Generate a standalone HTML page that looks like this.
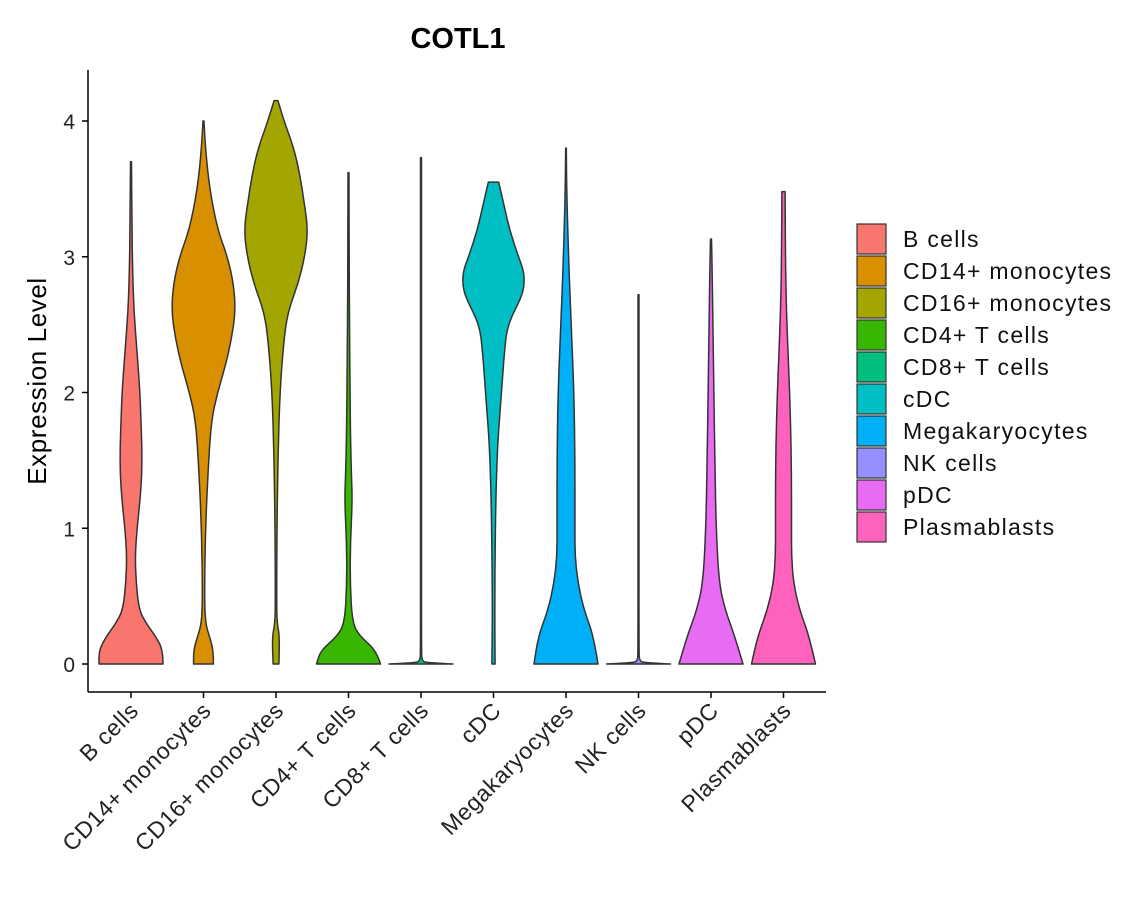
<!DOCTYPE html>
<html><head><meta charset="utf-8"><style>
body{margin:0;background:#fff;}
svg{display:block;font-family:"Liberation Sans","DejaVu Sans",sans-serif;}
</style></head><body>
<svg id="chart" width="1140" height="900" viewBox="0 0 1140 900">
<text x="458" y="48" text-anchor="middle" font-size="29" font-weight="bold">COTL1</text>
<text transform="translate(46,381) rotate(-90)" text-anchor="middle" font-size="26" letter-spacing="0.6">Expression Level</text>
<g id="plot"></g>
<g id="legend"></g>
</svg>
<script>
const categories=["B cells","CD14+ monocytes","CD16+ monocytes","CD4+ T cells","CD8+ T cells","cDC","Megakaryocytes","NK cells","pDC","Plasmablasts"];
const colors=["#F8766D","#D89000","#A3A500","#39B600","#00BF7D","#00BFC4","#00B0F6","#9590FF","#E76BF3","#FF62BC"];
const yTicks=[0,1,2,3,4];
const levels0=[0,0.1,0.2,0.3,0.4,0.6,0.8,1.0,1.2,1.4,1.6,1.8,2.0,2.3,2.6,2.9,3.2,3.7];
const dens0=[1,1,0.78,0.47,0.25,0.16,0.13,0.19,0.28,0.34,0.34,0.31,0.28,0.19,0.09,0.05,0.03,0.015];
const levels1=[0,0.1,0.2,0.3,0.5,1.0,1.5,1.8,2.0,2.2,2.4,2.6,2.8,3.0,3.2,3.5,3.8,4.0];
const dens1=[0.31,0.31,0.19,0.06,0.03,0.06,0.16,0.25,0.44,0.69,0.88,1,0.94,0.75,0.44,0.19,0.06,0.015];
const levels2=[0,0.2,0.3,0.5,1.0,1.5,2.0,2.4,2.6,2.8,3.0,3.2,3.4,3.6,3.8,4.0,4.15];
const dens2=[0.09,0.12,0.03,0.02,0.03,0.06,0.12,0.25,0.38,0.69,0.9,1,0.88,0.75,0.56,0.25,0.06];
const levels3=[0,0.1,0.2,0.3,0.6,0.9,1.2,1.4,1.7,2.0,2.5,3.0,3.62];
const dens3=[1,0.87,0.37,0.12,0.05,0.06,0.12,0.09,0.06,0.05,0.03,0.02,0.015];
const levels4=[0,0.01,0.02,0.1,1,2,3,3.73];
const dens4=[1,0.2,0.03,0.015,0.015,0.015,0.015,0.015];
const levels5=[0,0.5,1.5,2.0,2.3,2.5,2.7,2.8,2.9,3.0,3.2,3.4,3.55];
const dens5=[0.05,0.03,0.09,0.25,0.34,0.44,0.87,0.97,0.94,0.78,0.5,0.31,0.16];
const levels6=[0,0.2,0.4,0.6,0.8,1.0,1.5,2.0,2.5,3.0,3.5,3.8];
const dens6=[1,0.87,0.56,0.37,0.28,0.28,0.28,0.25,0.16,0.08,0.02,0.01];
const levels7=[0,0.01,0.02,0.1,1,2,2.72];
const dens7=[1,0.2,0.03,0.015,0.015,0.015,0.015];
const levels8=[0,0.2,0.4,0.6,1.0,1.5,2.0,2.5,3.0,3.13];
const dens8=[1,0.75,0.44,0.25,0.16,0.12,0.09,0.06,0.03,0.015];
const levels9=[0,0.2,0.4,0.6,0.8,1.0,1.4,1.8,2.2,2.6,3.0,3.48];
const dens9=[1,0.81,0.5,0.31,0.25,0.25,0.25,0.22,0.16,0.09,0.06,0.05];
const allLevels=[levels0,levels1,levels2,levels3,levels4,levels5,levels6,levels7,levels8,levels9];
const allDens=[dens0,dens1,dens2,dens3,dens4,dens5,dens6,dens7,dens8,dens9];

const NS="http://www.w3.org/2000/svg";
const X0=131,DX=72.5,Y0=664,DY=135.75,HW=32;
const xs=i=>X0+i*DX, ys=v=>Y0-v*DY;
const plot=document.getElementById('plot');
function mk(t,a,p){const e=document.createElementNS(NS,t);for(const k in a)e.setAttribute(k,a[k]);(p||plot).appendChild(e);return e;}
function smooth(pts){let d="M"+pts[0][0]+","+pts[0][1];
 for(let i=1;i<pts.length-1;i++){const mx=(pts[i][0]+pts[i+1][0])/2,my=(pts[i][1]+pts[i+1][1])/2;d+=" Q"+pts[i][0]+","+pts[i][1]+" "+mx+","+my;}
 const l=pts[pts.length-1];d+=" L"+l[0]+","+l[1];return d;}
categories.forEach((c,i)=>{
 const L=allLevels[i],D=allDens[i],cx=xs(i);
 const right=L.map((v,k)=>[cx+D[k]*HW,ys(v)]);
 const left=L.map((v,k)=>[cx-D[k]*HW,ys(v)]).reverse();
 let d=smooth(right);const ld=smooth(left);d+=" L"+ld.slice(1)+" Z";
 const p=mk('path',{d:d,fill:colors[i],stroke:"#333",'stroke-width':1.5,'stroke-linejoin':'round'});
 
 
 const tk=mk('line',{x1:cx,x2:cx,y1:692,y2:698,stroke:"#000",'stroke-width':1.5});
 
 
 const t=mk('text',{transform:`translate(${cx+9},${712}) rotate(-45)`,'text-anchor':'end','font-size':23,fill:'#222','letter-spacing':'0.6'});
 t.textContent=c;
 
 
});
yTicks.forEach(v=>{
 const tk=mk('line',{x1:82,x2:88,y1:ys(v),y2:ys(v),stroke:"#000",'stroke-width':1.5});
 
 
 const t=mk('text',{x:75,y:ys(v)+8,'text-anchor':'end','font-size':21,fill:'#222'});
 t.textContent=v;
 
 
});
const ya=mk('line',{x1:88,x2:88,y1:70,y2:692,stroke:"#000",'stroke-width':1.5});


const xa=mk('line',{x1:88,x2:826,y1:692,y2:692,stroke:"#000",'stroke-width':1.5});


const lg=document.getElementById('legend');
categories.forEach((c,i)=>{
 const y=223+i*32;
 const r=mk('rect',{x:857,y:y+1,width:29,height:30,fill:colors[i],stroke:"#333",'stroke-width':1.2},lg);
 
 
 const t=mk('text',{x:903,y:y+24,'font-size':23,fill:'#111','letter-spacing':'1.3'},lg);
 t.textContent=c;
 
 
});
</script>
</body></html>
